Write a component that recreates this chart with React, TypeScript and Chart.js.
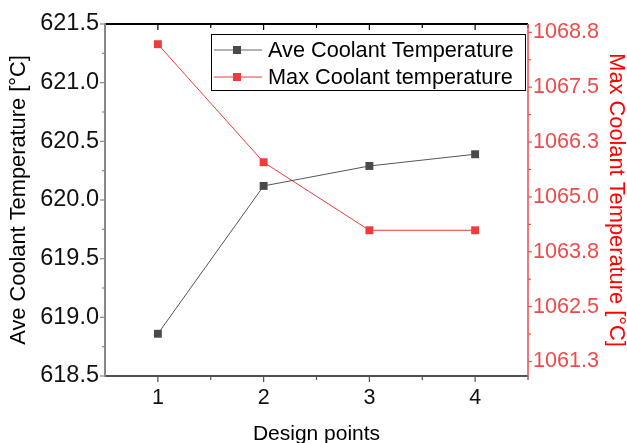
import React, { useEffect, useRef } from "react";
import { Chart, registerables } from "chart.js";
Chart.register(...registerables);

const designPoints = [1, 2, 3, 4];
const aveCoolant = [618.86, 620.12, 620.29, 620.39];
const maxCoolant = [1068.48, 1065.79, 1064.24, 1064.24];
const xTicks = [1, 2, 3, 4];
const leftTicks = [618.5, 619.0, 619.5, 620.0, 620.5, 621.0, 621.5];
const rightTicks = [1061.25, 1062.5, 1063.75, 1065.0, 1066.25, 1067.5, 1068.75];
const seriesLabels = ["Ave Coolant Temperature", "Max Coolant temperature"];
const xTitle = "Design points";
const leftTitle = "Ave Coolant Temperature [°C]";
const rightTitle = "Max Coolant Temperature [°C]";

const FONT = '"Liberation Sans", Arial, sans-serif';
const AVE_MARK = "#4a4a4a";
const AVE_LINE = "#555555";
const MAX_MARK = "#ee3b3b";
const MAX_LINE = "#f03a3a";

const decorPlugin = {
  id: "decor",
  afterDraw(chart: any) {
    const ctx = chart.ctx;
    const { left, right, top, bottom } = chart.chartArea;
    const xs = chart.scales.x;
    const yl = chart.scales.y;
    const yr = chart.scales.y1;
    ctx.save();
    const line = (x1: number, y1: number, x2: number, y2: number, c: string, w: number) => {
      ctx.strokeStyle = c;
      ctx.lineWidth = w;
      ctx.beginPath();
      ctx.moveTo(x1, y1);
      ctx.lineTo(x2, y2);
      ctx.stroke();
    };
    for (let i = 0; i < leftTicks.length; i++) {
      const y = yl.getPixelForValue(leftTicks[i]);
      line(left - 5, y, left, y, "#888888", 1.2);
      if (i < leftTicks.length - 1) {
        const ym = yl.getPixelForValue((leftTicks[i] + leftTicks[i + 1]) / 2);
        line(left - 3, ym, left, ym, "#888888", 1.2);
      }
    }
    for (let i = 0; i < rightTicks.length; i++) {
      const y = yr.getPixelForValue(rightTicks[i]);
      line(right, y, right + 4, y, "#f05050", 1.2);
      const ym = yr.getPixelForValue(rightTicks[i] - 0.625);
      if (ym < bottom) line(right, ym, right + 3, ym, "#f05050", 1.2);
      const yn = yr.getPixelForValue(rightTicks[i] + 0.625);
      if (i === rightTicks.length - 1 && yn > top) line(right, yn, right + 3, yn, "#f05050", 1.2);
    }
    for (let i = 0; i < xTicks.length; i++) {
      const x = xs.getPixelForValue(xTicks[i]);
      line(x, bottom, x, bottom + 6, "#505050", 1.2);
      line(x, top, x, top + 6, "#000000", 1.2);
      const xm = xs.getPixelForValue(xTicks[i] + 0.5);
      line(xm, bottom, xm, bottom + 4, "#505050", 1.2);
      line(xm, top, xm, top + 4, "#000000", 1.2);
    }
    line(left, top, right, top, "#000000", 2);
    line(left, bottom, right, bottom, "#505050", 2);
    line(left, top - 1, left, bottom + 1, "#888888", 2);
    line(right, top, right, bottom + 1, "#f04848", 1.5);

    const bx = 211, by = 34, bw = 314, bh = 56;
    ctx.fillStyle = "#ffffff";
    ctx.fillRect(bx, by, bw, bh);
    ctx.strokeStyle = "#000000";
    ctx.lineWidth = 1;
    ctx.strokeRect(bx + 0.5, by + 0.5, bw, bh);
    const rows = [
      { y: 50, line: "#999999", mark: AVE_MARK, lw: 1.5 },
      { y: 77, line: "#f03a3a", mark: MAX_MARK, lw: 1 },
    ];
    ctx.font = `21.7px ${FONT}`;
    ctx.textBaseline = "middle";
    ctx.textAlign = "left";
    rows.forEach((r, i) => {
      line(214, r.y, 262, r.y, r.line, r.lw);
      ctx.fillStyle = r.mark;
      ctx.fillRect(233, r.y - 4, 8, 8);
      ctx.fillStyle = "#000000";
      ctx.fillText(seriesLabels[i], 268, r.y + 1);
    });
    ctx.restore();
  },
};

export default function App() {
  const ref = useRef<HTMLCanvasElement>(null);
  useEffect(() => {
    document.body.style.margin = "0";
    const canvas = ref.current!;
    const chart = new Chart(canvas, {
      type: "line",
      data: {
        datasets: [
          {
            label: seriesLabels[0],
            data: designPoints.map((x, i) => ({ x, y: aveCoolant[i] })),
            borderColor: AVE_LINE,
            backgroundColor: AVE_MARK,
            borderWidth: 1,
            pointStyle: "rect",
            pointRadius: 5.6,
            pointBorderWidth: 0,
            yAxisID: "y",
          },
          {
            label: seriesLabels[1],
            data: designPoints.map((x, i) => ({ x, y: maxCoolant[i] })),
            borderColor: MAX_LINE,
            backgroundColor: MAX_MARK,
            borderWidth: 1,
            pointStyle: "rect",
            pointRadius: 5.6,
            pointBorderWidth: 0,
            yAxisID: "y1",
          },
        ],
      },
      options: {
        animation: false,
        responsive: false,
        devicePixelRatio: 1,
        layout: { padding: { top: 24, left: 0, right: 0, bottom: 0 } },
        plugins: { legend: { display: false }, tooltip: { enabled: false } },
        scales: {
          x: {
            type: "linear",
            min: 0.5,
            max: 4.5,
            grid: { display: false, drawTicks: false },
            border: { display: false },
            afterBuildTicks: (s: any) => {
              s.ticks = xTicks.map((v) => ({ value: v }));
            },
            afterFit: (s: any) => {
              s.height = 67;
            },
            ticks: {
              padding: 9,
              color: "#111111",
              font: { family: FONT, size: 21.5 },
              callback: (v: any) => String(v),
            },
            title: {
              display: true,
              text: xTitle,
              color: "#000000",
              font: { family: FONT, size: 21, lineHeight: 1 },
              padding: { top: 0, bottom: -1.5 },
            },
          },
          y: {
            type: "linear",
            position: "left",
            min: 618.5,
            max: 621.5,
            grid: { display: false, drawTicks: false },
            border: { display: false },
            afterBuildTicks: (s: any) => {
              s.ticks = leftTicks.map((v) => ({ value: v }));
            },
            afterFit: (s: any) => {
              s.width = 105;
            },
            ticks: {
              padding: 6,
              color: "#111111",
              font: { family: FONT, size: 23.5 },
              callback: (v: any) => Number(v).toFixed(1),
            },
            title: {
              display: true,
              text: leftTitle,
              color: "#000000",
              font: { family: FONT, size: 21.8, lineHeight: 1 },
              padding: { top: 8, bottom: 0 },
            },
          },
          y1: {
            type: "linear",
            position: "right",
            min: 1060.92,
            max: 1068.94,
            grid: { display: false, drawTicks: false },
            border: { display: false },
            afterBuildTicks: (s: any) => {
              s.ticks = rightTicks.map((v) => ({ value: v }));
            },
            afterFit: (s: any) => {
              s.width = 99;
            },
            ticks: {
              padding: 5,
              color: "#f04a4a",
              font: { family: FONT, size: 21.6 },
              callback: (v: any) => Number(v).toFixed(1),
            },
            title: {
              display: true,
              text: rightTitle,
              color: "#ff0000",
              font: { family: FONT, size: 21.8, lineHeight: 1 },
              padding: { top: 0.5, bottom: 0 },
            },
          },
        },
      } as any,
      plugins: [decorPlugin],
    });
    return () => chart.destroy();
  }, []);
  return <canvas ref={ref} width={627} height={443} style={{ display: "block" }} />;
}
